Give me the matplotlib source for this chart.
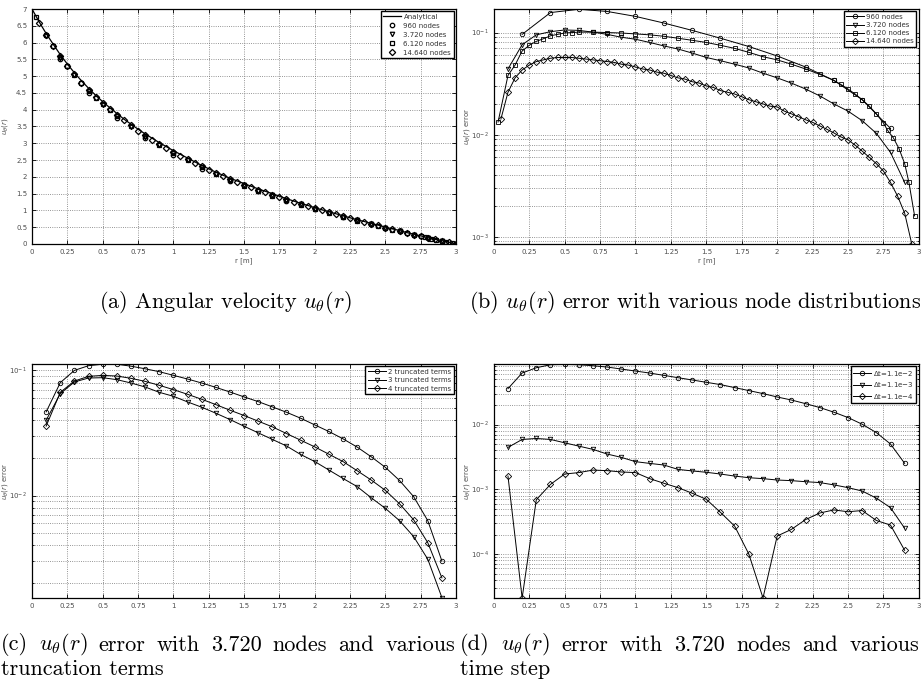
import numpy as np
import matplotlib
matplotlib.use('Agg')
import matplotlib.pyplot as plt
from matplotlib.ticker import LogLocator, NullFormatter, FuncFormatter, MultipleLocator


# ---------------------------------------------------------
# Data
# ---------------------------------------------------------
# (a) analytical angular velocity
r_analytic = [0.00, 0.05, 0.10, 0.15, 0.20, 0.25, 0.30, 0.35, 0.40, 0.45, 0.50, 0.55, 0.60,
              0.65, 0.70, 0.75, 0.80, 0.85, 0.90, 0.95, 1.00, 1.05, 1.10, 1.15, 1.20, 1.25,
              1.30, 1.35, 1.40, 1.45, 1.50, 1.55, 1.60, 1.65, 1.70, 1.75, 1.80, 1.85, 1.90,
              1.95, 2.00, 2.05, 2.10, 2.15, 2.20, 2.25, 2.30, 2.35, 2.40, 2.45, 2.50, 2.55,
              2.60, 2.65, 2.70, 2.75, 2.80, 2.85, 2.90, 2.95, 3.00]
u_analytic = [7.00, 6.62, 6.27, 5.95, 5.64, 5.36, 5.10, 4.86, 4.64, 4.43, 4.24, 4.06, 3.89,
              3.72, 3.57, 3.42, 3.28, 3.15, 3.02, 2.90, 2.78, 2.67, 2.56, 2.45, 2.34, 2.24,
              2.14, 2.05, 1.96, 1.88, 1.80, 1.72, 1.64, 1.57, 1.50, 1.42, 1.35, 1.28, 1.21,
              1.15, 1.08, 1.02, 0.96, 0.90, 0.84, 0.78, 0.72, 0.67, 0.61, 0.56, 0.50, 0.45,
              0.40, 0.34, 0.29, 0.24, 0.19, 0.14, 0.10, 0.05, 0.00]

# node positions of the four distributions
r_960 = [0.2, 0.4, 0.6, 0.8, 1.0, 1.2, 1.4, 1.6, 1.8, 2.0, 2.2, 2.4, 2.6, 2.8, 3.0]
r_3720 = [0.1, 0.2, 0.3, 0.4, 0.5, 0.6, 0.7, 0.8, 0.9, 1.0, 1.1, 1.2, 1.3, 1.4, 1.5,
          1.6, 1.7, 1.8, 1.9, 2.0, 2.1, 2.2, 2.3, 2.4, 2.5, 2.6, 2.7, 2.8, 2.9, 3.0]
r_6120 = [0.03, 0.1, 0.15, 0.2, 0.25, 0.3, 0.35, 0.4, 0.45, 0.5, 0.55, 0.6, 0.7, 0.8, 0.9,
          1.0, 1.1, 1.2, 1.3, 1.4, 1.5, 1.6, 1.7, 1.8, 1.9, 2.0, 2.1, 2.2, 2.3, 2.4, 2.45,
          2.5, 2.55, 2.6, 2.65, 2.7, 2.75, 2.78, 2.82, 2.86, 2.9, 2.93, 2.97]
r_14640 = [0.05, 0.10, 0.15, 0.20, 0.25, 0.30, 0.35, 0.40, 0.45, 0.50, 0.55, 0.60, 0.65,
           0.70, 0.75, 0.80, 0.85, 0.90, 0.95, 1.00, 1.05, 1.10, 1.15, 1.20, 1.25, 1.30,
           1.35, 1.40, 1.45, 1.50, 1.55, 1.60, 1.65, 1.70, 1.75, 1.80, 1.85, 1.90, 1.95,
           2.00, 2.05, 2.10, 2.15, 2.20, 2.25, 2.30, 2.35, 2.40, 2.45, 2.50, 2.55, 2.60,
           2.65, 2.70, 2.75, 2.80, 2.85, 2.90, 2.95, 3.00]

# (a) numerical solutions
u_960 = [5.5, 4.5, 3.75, 3.15, 2.65, 2.24, 1.88, 1.57, 1.29, 1.03, 0.79, 0.58, 0.38, 0.18, 0.0]
u_3720 = [6.2, 5.55, 5.02, 4.55, 4.15, 3.8, 3.49, 3.2, 2.94, 2.71, 2.49, 2.28, 2.09, 1.91,
          1.75, 1.59, 1.45, 1.31, 1.18, 1.05, 0.93, 0.81, 0.7, 0.59, 0.48, 0.38, 0.28,
          0.18, 0.09, 0.0]
u_6120 = [6.75, 6.22, 5.9, 5.57, 5.29, 5.03, 4.79, 4.56, 4.35, 4.16, 3.98, 3.81, 3.5, 3.21,
          2.95, 2.71, 2.49, 2.28, 2.08, 1.9, 1.74, 1.58, 1.44, 1.3, 1.16, 1.04, 0.92, 0.8,
          0.69, 0.58, 0.53, 0.48, 0.43, 0.38, 0.33, 0.28, 0.23, 0.2, 0.16, 0.13, 0.09, 0.06,
          0.03]
u_14640 = [6.58, 6.22, 5.9, 5.59, 5.31, 5.05, 4.81, 4.59, 4.38, 4.19, 4.01, 3.84, 3.68, 3.53,
           3.38, 3.24, 3.11, 2.98, 2.86, 2.74, 2.63, 2.52, 2.41, 2.31, 2.21, 2.11, 2.02, 1.93,
           1.85, 1.77, 1.69, 1.61, 1.54, 1.47, 1.4, 1.33, 1.26, 1.19, 1.13, 1.06, 1.0, 0.94,
           0.88, 0.82, 0.76, 0.71, 0.66, 0.6, 0.55, 0.49, 0.44, 0.39, 0.33, 0.28, 0.23, 0.18,
           0.14, 0.09, 0.05, 0.0]

# (b) error for the node distributions
err_960 = [0.096, 0.157, 0.169, 0.161, 0.144, 0.124, 0.105, 0.088, 0.073, 0.059, 0.046,
           0.034, 0.022, 0.0115]
err_3720 = [0.044, 0.076, 0.095, 0.102, 0.106, 0.105, 0.101, 0.096, 0.090, 0.086, 0.080,
            0.074, 0.069, 0.063, 0.057, 0.053, 0.049, 0.045, 0.040, 0.036, 0.032, 0.028,
            0.024, 0.020, 0.017, 0.0137, 0.0103, 0.0067, 0.0034]
err_6120 = [0.0133, 0.038, 0.048, 0.066, 0.075, 0.082, 0.087, 0.093, 0.096, 0.099, 0.100,
            0.101, 0.101, 0.100, 0.099, 0.097, 0.095, 0.092, 0.088, 0.084, 0.080, 0.075,
            0.070, 0.064, 0.058, 0.054, 0.049, 0.044, 0.039, 0.034, 0.031, 0.028, 0.025,
            0.022, 0.019, 0.016, 0.013, 0.011, 0.0093, 0.0073, 0.0052, 0.0034, 0.0016]
err_14640 = [0.0142, 0.026, 0.036, 0.043, 0.048, 0.052, 0.054, 0.056, 0.057, 0.057, 0.057,
             0.056, 0.055, 0.054, 0.053, 0.052, 0.051, 0.049, 0.048, 0.046, 0.044, 0.043,
             0.041, 0.040, 0.038, 0.036, 0.035, 0.033, 0.032, 0.030, 0.029, 0.027, 0.026,
             0.025, 0.0235, 0.022, 0.021, 0.020, 0.019, 0.0187, 0.017, 0.016, 0.015, 0.014,
             0.0132, 0.0122, 0.0113, 0.0104, 0.0095, 0.0089, 0.0079, 0.0069, 0.0060, 0.0052,
             0.0044, 0.0034, 0.0025, 0.0017, 0.00085]

# (c) error vs number of truncated terms, 3.720 nodes
r_trunc = [0.1, 0.2, 0.3, 0.4, 0.5, 0.6, 0.7, 0.8, 0.9, 1.0, 1.1, 1.2, 1.3, 1.4, 1.5,
           1.6, 1.7, 1.8, 1.9, 2.0, 2.1, 2.2, 2.3, 2.4, 2.5, 2.6, 2.7, 2.8, 2.9]
err_trunc2 = [0.0466, 0.0798, 0.100, 0.109, 0.112, 0.112, 0.108, 0.103, 0.0976, 0.0913,
              0.0853, 0.0793, 0.0732, 0.0672, 0.0614, 0.0563, 0.0511, 0.0463, 0.0415,
              0.0367, 0.0325, 0.0284, 0.0244, 0.0204, 0.0168, 0.0132, 0.0098, 0.0063, 0.0030]
err_trunc3 = [0.040, 0.0652, 0.0808, 0.0869, 0.0874, 0.0843, 0.0793, 0.0737, 0.0668,
              0.0621, 0.0560, 0.0508, 0.0455, 0.0405, 0.0358, 0.0317, 0.0281, 0.0249,
              0.0213, 0.0187, 0.0160, 0.0137, 0.0118, 0.0096, 0.0079, 0.0063, 0.0047,
              0.0031, 0.00153]
err_trunc4 = [0.0359, 0.0668, 0.0822, 0.0896, 0.0912, 0.0901, 0.0864, 0.0817, 0.0760,
              0.0702, 0.0644, 0.0588, 0.0533, 0.0481, 0.0436, 0.0393, 0.0354, 0.0313,
              0.0277, 0.0245, 0.0214, 0.0187, 0.0158, 0.0133, 0.0110, 0.0086, 0.0064,
              0.0042, 0.0022]

# (d) error vs time step, 3.720 nodes
err_dt2 = [0.0358, 0.0624, 0.0752, 0.0837, 0.0846, 0.0837, 0.0808, 0.0771, 0.0718, 0.0669,
           0.0623, 0.0574, 0.0528, 0.0487, 0.0448, 0.0413, 0.0371, 0.0334, 0.0300, 0.0266,
           0.0239, 0.0210, 0.0183, 0.0155, 0.0128, 0.0101, 0.0075, 0.0050, 0.00251]
err_dt3 = [0.00443, 0.00588, 0.00609, 0.00588, 0.00522, 0.00464, 0.00413, 0.00350, 0.00311,
           0.00267, 0.00251, 0.00237, 0.00203, 0.00192, 0.00183, 0.00172, 0.00160, 0.00151,
           0.00146, 0.00139, 0.00136, 0.00131, 0.00127, 0.00117, 0.00106, 0.00094, 0.00073,
           0.00052, 0.00025]
err_dt4 = [0.0016, 2.1e-5, 0.00069, 0.00119, 0.00172, 0.00181, 0.00198, 0.00194, 0.00185,
           0.00181, 0.00146, 0.00124, 0.00106, 0.00087, 0.00070, 0.00044, 0.00027, 0.000100,
           2.1e-5, 0.00019, 0.00024, 0.00034, 0.00043, 0.00048, 0.00045, 0.00047, 0.00033,
           0.00028, 0.000114]

x_ticks = [0, 0.25, 0.5, 0.75, 1, 1.25, 1.5, 1.75, 2, 2.25, 2.5, 2.75, 3]

captions = [
    [r'(a) Angular velocity $u_\theta(r)$'],
    [r'(b) $u_\theta(r)$ error with various node distributions'],
    [r'(c) $u_\theta(r)$ error with 3.720 nodes and various', 'truncation terms'],
    [r'(d) $u_\theta(r)$ error with 3.720 nodes and various', 'time step'],
]

FS = 5
MS = 3.2
W, H = 923, 695


def style_axes(ax, log=False):
    ax.set_xlim(0, 3)
    ax.set_xticks(x_ticks)
    ax.xaxis.set_major_formatter(FuncFormatter(lambda v, _: f'{v:g}'))
    if log:
        ax.set_yscale('log')
        ax.yaxis.set_major_locator(LogLocator(base=10))
        ax.yaxis.set_minor_locator(LogLocator(base=10, subs=np.arange(2, 10)))
        ax.yaxis.set_minor_formatter(NullFormatter())
    ax.grid(True, which='both', ls=':', color='0.45', lw=0.6)
    ax.tick_params(which='both', direction='in', top=True, right=True,
                   labelsize=FS, labelcolor='0.3', width=0.6)
    ax.tick_params(which='major', length=3)
    ax.tick_params(which='minor', length=1.5)
    for s in ax.spines.values():
        s.set_linewidth(0.9)


def add_legend(ax, spacing):
    leg = ax.legend(loc='upper right', fontsize=FS, frameon=True, fancybox=False,
                    edgecolor='black', framealpha=1, borderaxespad=0.35,
                    handlelength=2.6, handletextpad=0.3, borderpad=0.35,
                    labelspacing=spacing)
    leg.get_frame().set_linewidth(1.0)
    for t in leg.get_texts():
        t.set_color('0.2')


def line(ax, x, y, m, label):
    ax.plot(x, y, '-', color='black', lw=0.7, marker=m, ms=MS, mfc='none',
            mec='black', mew=0.6, label=label)


def set_labels(ax, ylabel, xlabel=None):
    ax.set_ylabel(ylabel, fontsize=FS, color='0.3')
    ax.yaxis.set_label_coords(-0.052, 0.5)
    if xlabel:
        ax.set_xlabel(xlabel, fontsize=FS, color='0.3', labelpad=2)


def justified(fig, text, x0, x1, y, **kw):
    # spread the words of one caption line over [x0, x1] (pixels), like LaTeX does
    renderer = fig.canvas.get_renderer()
    words = text.split(' ')
    objs = [fig.text(0, 1 - y / H, w, ha='left', **kw) for w in words]
    widths = [o.get_window_extent(renderer).width for o in objs]
    gap = (x1 - x0 - sum(widths)) / (len(words) - 1)
    x = x0
    for o, w in zip(objs, widths):
        o.set_x(x / W)
        x += w + gap


def main():
    fig = plt.figure(figsize=(W / 100, H / 100), dpi=100)

    axa = fig.add_axes([0.0347, 0.649, 0.4594, 0.338])
    axb = fig.add_axes([0.535, 0.649, 0.4605, 0.338])
    axc = fig.add_axes([0.0347, 0.1396, 0.4594, 0.3367])
    axd = fig.add_axes([0.535, 0.1396, 0.4605, 0.3367])

    # (a)
    axa.plot(r_analytic, u_analytic, '-', color='black', lw=0.9, label='Analytical')
    for r, u, m, lab in [(r_960, u_960, 'o', '960 nodes'),
                         (r_3720, u_3720, 'v', '3.720 nodes'),
                         (r_6120, u_6120, 's', '6.120 nodes'),
                         (r_14640, u_14640, 'D', '14.640 nodes')]:
        axa.plot(r, u, ls='none', marker=m, ms=MS, mfc='none', mec='black',
                 mew=0.9, label=lab)
    style_axes(axa)
    axa.set_ylim(0, 7)
    axa.yaxis.set_major_locator(MultipleLocator(0.5))
    axa.yaxis.set_major_formatter(FuncFormatter(lambda v, _: f'{v:g}'))
    set_labels(axa, r'$u_\theta(r)$', 'r [m]')
    add_legend(axa, 0.42)

    # (b)
    line(axb, r_960[:-1], err_960, 'o', '960 nodes')
    line(axb, r_3720[:-1], err_3720, 'v', '3.720 nodes')
    line(axb, r_6120, err_6120, 's', '6.120 nodes')
    line(axb, r_14640[:-1], err_14640, 'D', '14.640 nodes')
    style_axes(axb, log=True)
    axb.set_ylim(8.5e-4, 0.17)
    set_labels(axb, r'$u_\theta(r)$ error', 'r [m]')
    add_legend(axb, 0.3)

    # (c)
    line(axc, r_trunc, err_trunc2, 'o', '2 truncated terms')
    line(axc, r_trunc, err_trunc3, 'v', '3 truncated terms')
    line(axc, r_trunc, err_trunc4, 'D', '4 truncated terms')
    style_axes(axc, log=True)
    axc.set_ylim(1.52e-3, 0.1125)
    set_labels(axc, r'$u_\theta(r)$ error')
    add_legend(axc, 0.35)

    # (d)
    line(axd, r_trunc, err_dt2, 'o', r'$\Delta$t=1.1e$-$2')
    line(axd, r_trunc, err_dt3, 'v', r'$\Delta$t=1.1e$-$3')
    line(axd, r_trunc, err_dt4, 'D', r'$\Delta$t=1.1e$-$4')
    style_axes(axd, log=True)
    axd.set_ylim(2.1e-5, 0.086)
    set_labels(axd, r'$u_\theta(r)$ error')
    add_legend(axd, 0.35)

    # sub-figure captions
    cap_kw = dict(fontsize=16, family='cmr10', math_fontfamily='cm', va='center')
    fig.text(225 / W, 1 - 302 / H, captions[0][0], ha='center', **cap_kw)
    fig.text(695 / W, 1 - 302 / H, captions[1][0], ha='center', **cap_kw)
    for x0, x1, cap in [(1, 455, captions[2]), (460, 919, captions[3])]:
        justified(fig, cap[0], x0, x1, 645, **cap_kw)
        fig.text(x0 / W, 1 - 669 / H, cap[1], ha='left', **cap_kw)

    fig.savefig('out.png', dpi=100)


if __name__ == "__main__":
    main()
